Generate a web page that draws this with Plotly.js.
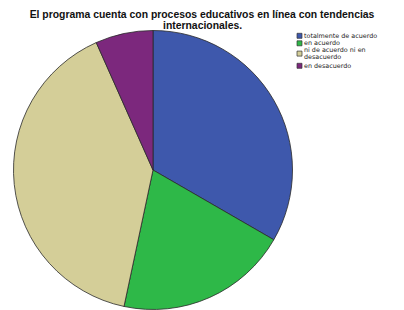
<!DOCTYPE html>
<html>
<head>
<meta charset="utf-8">
<script src="https://cdn.plot.ly/plotly-3.0.1.min.js"></script>
<style>
  html, body { margin: 0; padding: 0; background: #fff; }
  #chart { width: 404px; height: 310px; }
</style>
</head>
<body>
<div id="chart"></div>
<script>
// ---- data ----
const categories = ["totalmente de acuerdo", "en acuerdo", "ni de acuerdo ni en desacuerdo", "en desacuerdo"];
const counts = [10, 6, 12, 2];
const colors = ["#3E58AC", "#2EB848", "#D4CE98", "#7C287D"];
const legendLines = [["totalmente de acuerdo"], ["en acuerdo"], ["ni de acuerdo ni en", "desacuerdo"], ["en desacuerdo"]];
const titleLines = ["El programa cuenta con procesos educativos en línea con tendencias", "internacionales."];

// ---- layout helpers ----
const W = 404, H = 310;
const px = x => x / W;
const py = y => 1 - y / H;

const cx = 153, cy = 170, r = 139.5;

const swatchCenters = [35.8, 43.3, 53.6, 65.8];
const textRows = [[36], [43.1], [50.4, 57.4], [66]];
const titleFont = { family: "Liberation Sans, Arial, sans-serif", size: 10.4, color: "#111", weight: "bold" };
const legendFont = { family: "DejaVu Sans, sans-serif", size: 6.4, color: "#222" };

const shapes = [];
const annotations = [];
categories.forEach((c, i) => {
  shapes.push({
    type: "rect", xref: "paper", yref: "paper",
    x0: px(297), x1: px(302),
    y0: py(swatchCenters[i] + 2.5), y1: py(swatchCenters[i] - 2.5),
    fillcolor: colors[i], line: { color: "#333333", width: 0.7 }
  });
  legendLines[i].forEach((ln, j) => {
    annotations.push({
      xref: "paper", yref: "paper",
      x: px(302.5), y: py(textRows[i][j]),
      xanchor: "left", yanchor: "middle",
      text: ln, showarrow: false, borderpad: 0,
      font: legendFont
    });
  });
});

// second title line
annotations.push({
  xref: "paper", yref: "paper",
  x: 0.5, y: py(25.3), xanchor: "center", yanchor: "middle",
  text: titleLines[1], showarrow: false, borderpad: 0,
  font: titleFont
});

const trace = {
  type: "pie",
  labels: categories,
  values: counts,
  sort: false,
  direction: "clockwise",
  rotation: 0,
  textinfo: "none",
  marker: { colors: colors, line: { color: "#2a2a2a", width: 0.8 } },
  domain: { x: [px(cx - r), px(cx + r)], y: [1 - (cy + r) / H, 1 - (cy - r) / H] },
  showlegend: false
};

const layout = {
  width: W, height: H,
  margin: { l: 0, r: 0, t: 0, b: 0 },
  paper_bgcolor: "#ffffff",
  showlegend: false,
  title: {
    text: titleLines[0],
    x: 0.5, xanchor: "center",
    yref: "container", y: py(14.5), yanchor: "middle",
    font: titleFont
  },
  shapes: shapes,
  annotations: annotations
};

Plotly.newPlot("chart", [trace], layout, { displayModeBar: false, staticPlot: true });
</script>
</body>
</html>
